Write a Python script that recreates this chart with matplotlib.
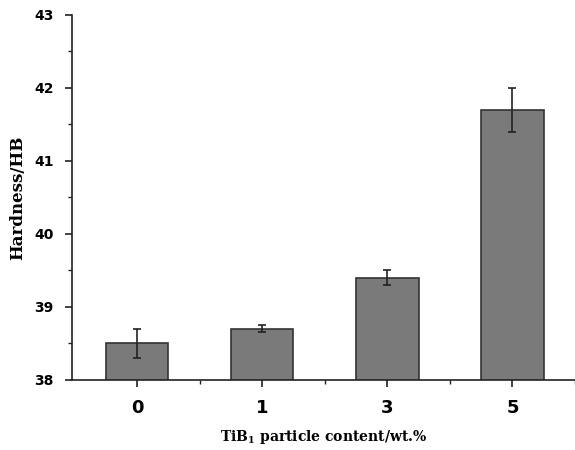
import numpy as np
import matplotlib.pyplot as plt
from matplotlib.ticker import MultipleLocator, FixedLocator

categories = ['0', '1', '3', '5']
hardness = [38.5, 38.7, 39.4, 41.7]
errors = [0.2, 0.05, 0.1, 0.3]

fig = plt.figure(figsize=(5.75, 4.5), dpi=100)
ax = fig.add_axes([0.125, 0.156, 0.875, 0.811])

x = np.arange(len(categories))
ax.bar(x, hardness, width=0.5, color='#7a7a7a', edgecolor='#333333', linewidth=1.2,
       yerr=errors, capsize=3, error_kw=dict(ecolor='#222222', elinewidth=1.2, capthick=1.2))

ax.set_ylim(38, 43)
ax.set_xlim(-0.52, 3.5)
ax.set_xticks(x)
ax.set_xticklabels(categories)
ax.xaxis.set_minor_locator(FixedLocator([0.5, 1.5, 2.5, 3.5]))
ax.yaxis.set_major_locator(MultipleLocator(1))
ax.yaxis.set_minor_locator(MultipleLocator(0.5))

ax.spines['top'].set_visible(False)
ax.spines['right'].set_visible(False)
for s in ['left', 'bottom']:
    ax.spines[s].set_linewidth(1.2)
    ax.spines[s].set_color('#222222')

ax.tick_params(which='major', direction='out', length=5, width=1.2, color='#222222')
ax.tick_params(which='minor', direction='out', length=3, width=1.0, color='#222222')

font = dict(family='DejaVu Serif', weight='bold')
for lab in ax.get_xticklabels() + ax.get_yticklabels():
    lab.set_fontfamily('DejaVu Sans')
    lab.set_fontweight('bold')
for lab in ax.get_xticklabels():
    lab.set_fontsize(13)
for lab in ax.get_yticklabels():
    lab.set_fontsize(10)
ax.tick_params(axis='x', pad=9)
ax.tick_params(axis='y', pad=8)

ax.set_ylabel('Hardness/HB', fontsize=12, labelpad=6, **font)
ax.set_xlabel('TiB$_\\mathregular{1}$ particle content/wt.%', fontsize=10, labelpad=8, **font)

fig.savefig('out.png', dpi=100)
